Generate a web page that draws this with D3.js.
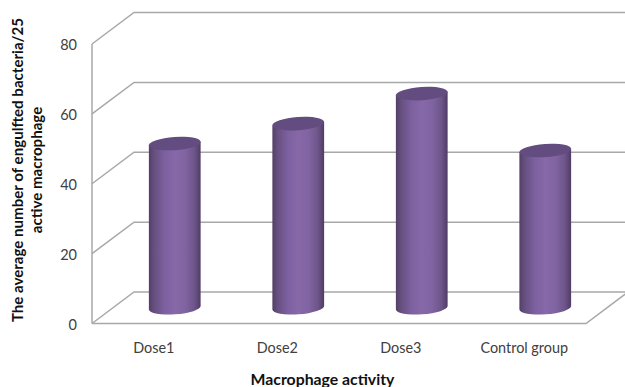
<!DOCTYPE html>
<html>
<head>
<meta charset="utf-8">
<script src="https://cdnjs.cloudflare.com/ajax/libs/d3/7.8.5/d3.min.js"></script>
<style>
html,body{margin:0;padding:0;background:#fff;overflow:hidden}
svg{display:block}
text{font-family:Lato,"Open Sans",sans-serif}
</style>
</head>
<body>
<svg id="chart" width="625" height="387"></svg>
<script>
const categories = ["Dose1", "Dose2", "Dose3", "Control group"];
const engulfed = [47, 52.7, 61.3, 45];
const yTicks = [0, 20, 40, 60, 80];
const xTitle = "Macrophage activity";
const yTitleLines = ["The average number of engulfted bacteria/25", "active macrophage"];

const svg = d3.select("#chart");

// Oblique projection of the 3D plot box: back plane is offset from the front plane.
const depthX = 42, depthY = -31.5;
const x = d3.scaleBand().domain(categories).range([92, 586]);
const y = d3.scaleLinear().domain([0, 80]).range([323.5, 44]);

const wall = "#a8a8a8";
const grid = svg.append("g").attr("fill", "none").attr("stroke", wall).attr("stroke-width", 1.5);

// Side wall and back wall gridlines
grid.selectAll("path.level").data(yTicks).join("path")
  .attr("class", "level")
  .attr("d", d => d3.line()([
    [x.range()[0], y(d)],
    [x.range()[0] + depthX, y(d) + depthY],
    [x.range()[1] + depthX, y(d) + depthY]
  ]));

// Left edge of the side wall
grid.append("path").attr("d", d3.line()([[x.range()[0], y(80)], [x.range()[0], y(0)]]));

// Floor: front edge and right edge
grid.append("path").attr("d", d3.line()([
  [x.range()[0], y(0)],
  [x.range()[1], y(0)],
  [x.range()[1] + depthX, y(0) + depthY]
]));

// Horizontal shading across each cylinder body
const defs = svg.append("defs");
const bodyGrad = defs.append("linearGradient").attr("id", "cylBody");
[[0, "#523f68"], [0.1, "#66507f"], [0.3, "#7c60a0"], [0.5, "#8768a8"],
 [0.7, "#8064a2"], [0.88, "#6d5589"], [1, "#4f3c66"]].forEach(([o, c]) => {
  bodyGrad.append("stop").attr("offset", o).attr("stop-color", c);
});

// Cylinders stand on the plane halfway between the front and back of the box
const tiltDeg = -4;
const rad = tiltDeg * Math.PI / 180;
const rx = x.bandwidth() * 0.21, ry = 6.6;
const dxEnd = rx * Math.cos(rad), dyEnd = rx * Math.sin(rad);
const cx = d => x(d) + x.bandwidth() / 2 + depthX / 2;
const cy = v => y(v) + depthY / 2;

const bars = svg.append("g").selectAll("g").data(categories.map((c, i) => ({c, v: engulfed[i]}))).join("g");

bars.append("path")
  .attr("fill", "url(#cylBody)")
  .attr("d", d => {
    const X = cx(d.c), top = cy(d.v), bot = cy(0);
    return `M${X - dxEnd},${top - dyEnd}` +
      `L${X + dxEnd},${top + dyEnd}` +
      `L${X + dxEnd},${bot + dyEnd}` +
      `A${rx},${ry} ${tiltDeg} 0 1 ${X - dxEnd},${bot - dyEnd}Z`;
  });

bars.append("ellipse")
  .attr("fill", "#634c7f")
  .attr("rx", rx).attr("ry", ry)
  .attr("transform", d => `translate(${cx(d.c)},${cy(d.v)}) rotate(${tiltDeg})`);

// Value axis labels
const yAxis = svg.append("g")
  .attr("transform", "translate(81,1)")
  .call(d3.axisLeft(y).tickValues(yTicks).tickSize(0).tickPadding(4));
yAxis.select(".domain").remove();
yAxis.selectAll("text").attr("font-size", 14.5).attr("fill", "#404040")
  .style("font-family", "Lato,'Open Sans',sans-serif");

// Category labels
const xAxis = svg.append("g")
  .attr("transform", "translate(0,343)")
  .call(d3.axisBottom(x).tickSize(0).tickPadding(0));
xAxis.select(".domain").remove();
xAxis.selectAll("text").attr("font-size", 14.4).attr("fill", "#404040")
  .style("font-family", "Lato,'Open Sans',sans-serif");

// Axis titles
svg.append("text")
  .attr("x", 322.5).attr("y", 385)
  .attr("text-anchor", "middle").attr("font-size", 15.8).attr("font-weight", 700).attr("fill", "#111")
  .text(xTitle);

svg.append("text")
  .attr("transform", "translate(23,170) rotate(-90)")
  .attr("text-anchor", "middle").attr("font-size", 15.1).attr("font-weight", 700).attr("fill", "#111")
  .selectAll("tspan").data(yTitleLines).join("tspan")
  .attr("x", 0).attr("dy", (d, i) => i ? 19 : 0)
  .text(d => d);
</script>
</body>
</html>
